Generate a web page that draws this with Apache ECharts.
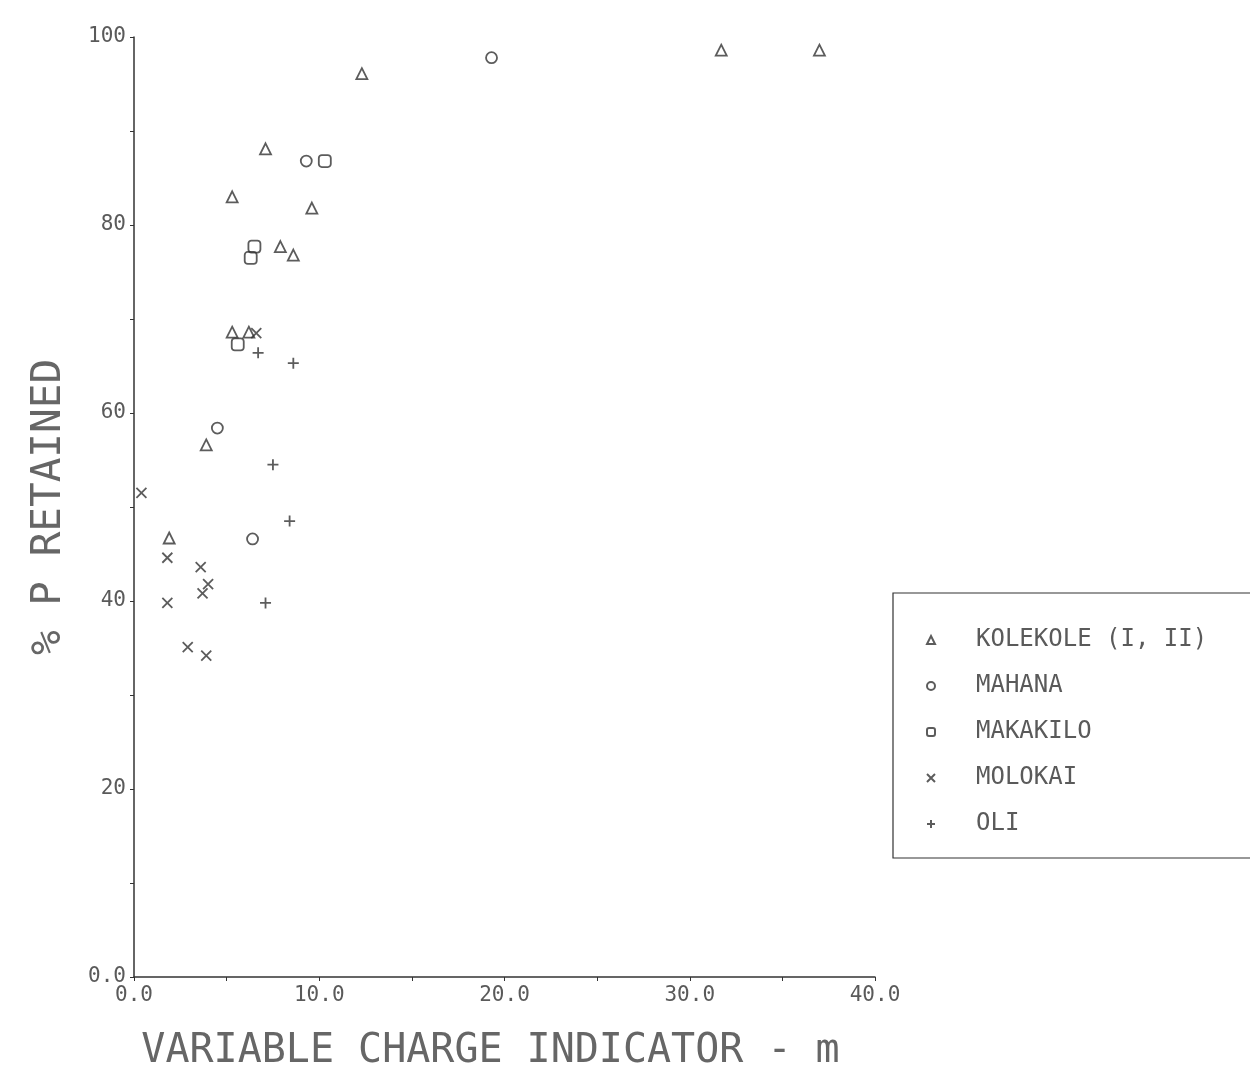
<!DOCTYPE html>
<html>
<head>
<meta charset="utf-8">
<title>% P retained vs variable charge indicator</title>
<script src="https://cdn.jsdelivr.net/npm/echarts@6/dist/echarts.min.js"></script>
<style>
  html, body { margin: 0; padding: 0; background: #fff; }
  #chart { width: 1250px; height: 1090px; }
</style>
</head>
<body>
<div id="chart"></div>
<script>
  // [m, % P retained]
  var kolekole = [
    [12.3, 96.1], [31.7, 98.6], [37.0, 98.6], [7.1, 88.1], [5.3, 83.0],
    [9.6, 81.8], [7.9, 77.7], [8.6, 76.8], [5.3, 68.6], [6.2, 68.6],
    [3.9, 56.6], [1.9, 46.7]
  ];
  var mahana = [[19.3, 97.8], [9.3, 86.8], [4.5, 58.4], [6.4, 46.6]];
  var makakilo = [[10.3, 86.8], [6.5, 77.7], [6.3, 76.5], [5.6, 67.3]];
  var molokai = [
    [0.4, 51.5], [6.6, 68.5], [1.8, 44.6], [3.6, 43.6], [4.0, 41.8],
    [3.7, 40.8], [1.8, 39.8], [2.9, 35.1], [3.9, 34.2]
  ];
  var oli = [[6.7, 66.4], [8.6, 65.3], [7.5, 54.5], [8.4, 48.5], [7.1, 39.8]];

  var seriesNames = ['KOLEKOLE (I, II)', 'MAHANA', 'MAKAKILO', 'MOLOKAI', 'OLI'];

  var ink = '#333';
  var textInk = '#5a5a5a';
  var font = 'DejaVu Sans Mono';

  var myChart = echarts.init(document.getElementById('chart'));

  function pts(name, data, symbol, size) {
    return {
      type: 'scatter',
      name: name,
      data: data,
      symbol: symbol,
      symbolSize: size,
      itemStyle: {
        color: 'rgba(0,0,0,0)',
        borderColor: ink,
        borderWidth: 1.8
      },
      emphasis: { disabled: true }
    };
  }

  var option = {
    backgroundColor: '#fff',
    animation: false,
    grid: { left: 134, right: 375, top: 37, bottom: 113 },
    legend: {
      orient: 'vertical',
      left: 893,
      top: 593,
      padding: [35, 160, 22, 33],
      itemGap: 22,
      itemWidth: 8,
      itemHeight: 8,
      borderColor: ink,
      borderWidth: 1.2,
      data: seriesNames,
      textStyle: {
        fontFamily: font,
        fontSize: 24,
        color: textInk,
        padding: [0, 0, 0, 36]
      }
    },
    xAxis: {
      type: 'value',
      min: 0,
      max: 40,
      interval: 5,
      splitLine: { show: false },
      axisLine: { lineStyle: { color: ink, width: 1.5 } },
      axisTick: { length: 4, lineStyle: { color: ink } },
      axisLabel: {
        margin: 8,
        fontFamily: font,
        fontSize: 21,
        color: textInk,
        showMinLabel: true,
        showMaxLabel: true,
        formatter: function (v) { return v % 10 === 0 ? v.toFixed(1) : ''; }
      },
      name: 'VARIABLE CHARGE INDICATOR - m',
      nameLocation: 'middle',
      nameGap: 55,
      nameTextStyle: {
        fontFamily: font,
        fontSize: 40,
        color: '#666',
        padding: [0, 28, 0, 0]
      }
    },
    yAxis: {
      type: 'value',
      min: 0,
      max: 100,
      interval: 10,
      splitLine: { show: false },
      axisLine: { lineStyle: { color: ink, width: 1.5 } },
      axisTick: { length: 4, lineStyle: { color: ink } },
      axisLabel: {
        margin: 8,
        fontFamily: font,
        fontSize: 21,
        color: textInk,
        formatter: function (v) {
          if (v === 0) return '0.0';
          return v % 20 === 0 ? String(v) : '';
        }
      },
      name: '% P RETAINED',
      nameLocation: 'middle',
      nameGap: 64,
      nameTextStyle: { fontFamily: font, fontSize: 41, color: '#666' }
    },
    series: [
      pts(seriesNames[0], kolekole, 'triangle', 11),
      pts(seriesNames[1], mahana, 'circle', 11),
      pts(seriesNames[2], makakilo, 'roundRect', 12),
      pts(seriesNames[3], molokai, 'path://M0,0L10,10M10,0L0,10', 10),
      pts(seriesNames[4], oli, 'path://M5,0L5,10M0,5L10,5', 11)
    ]
  };

  myChart.setOption(option);
</script>
</body>
</html>
